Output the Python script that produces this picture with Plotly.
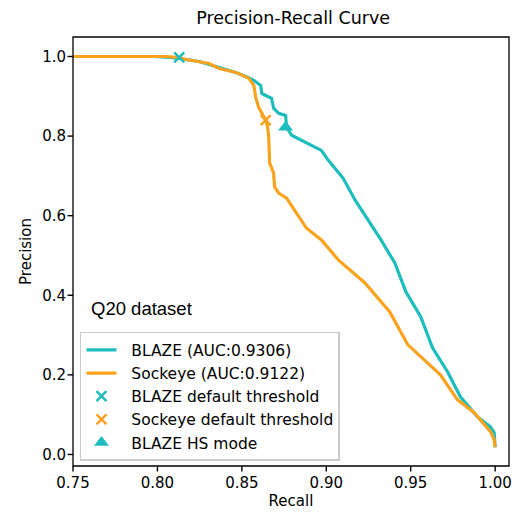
import plotly.graph_objects as go

# Precision-recall curves
blaze_recall = [0.75, 0.7982, 0.8071, 0.8129, 0.8247, 0.8365, 0.8465, 0.8541, 0.8571, 0.8612,
                0.8618, 0.8641, 0.8676, 0.8688, 0.8718, 0.8759, 0.8765, 0.8794, 0.8876, 0.8971,
                0.9012, 0.9100, 0.9171, 0.9247, 0.9324, 0.9406, 0.9471, 0.9559, 0.9629, 0.9718,
                0.9794, 0.9894, 0.9971, 0.9994, 1.0]
blaze_precision = [1.0, 1.0, 0.9975, 0.995, 0.9875, 0.9725, 0.960, 0.947, 0.940, 0.927,
                   0.907, 0.902, 0.895, 0.870, 0.857, 0.852, 0.822, 0.802, 0.784, 0.764,
                   0.739, 0.694, 0.639, 0.589, 0.539, 0.481, 0.409, 0.346, 0.268, 0.208,
                   0.145, 0.095, 0.070, 0.055, 0.018]

sockeye_recall = [0.75, 0.8053, 0.8129, 0.8171, 0.8306, 0.8365, 0.8465, 0.8541, 0.8571, 0.8582,
                  0.8600, 0.8618, 0.8641, 0.8653, 0.8659, 0.8665, 0.8688, 0.8694, 0.8718, 0.8765,
                  0.8882, 0.8971, 0.9071, 0.9229, 0.9376, 0.9482, 0.9676, 0.9776, 0.9876, 0.9971,
                  0.9994, 1.0]
sockeye_precision = [1.0, 1.0, 0.9975, 0.9925, 0.9825, 0.970, 0.960, 0.945, 0.927, 0.897,
                     0.872, 0.857, 0.840, 0.822, 0.797, 0.732, 0.707, 0.672, 0.657, 0.644,
                     0.569, 0.539, 0.489, 0.431, 0.358, 0.276, 0.200, 0.138, 0.105, 0.058,
                     0.038, 0.018]

blaze_auc = 0.9306
sockeye_auc = 0.9122

blaze_default = (0.8129, 0.9975)
sockeye_default = (0.8641, 0.840)
blaze_hs = (0.8759, 0.822)

x_ticks = [0.75, 0.80, 0.85, 0.90, 0.95, 1.00]
y_ticks = [0.0, 0.2, 0.4, 0.6, 0.8, 1.0]
x_range = [0.75, 1.0082]
y_range = [-0.029, 1.049]

TEAL = "#1ebdbd"
ORANGE = "#f9a31f"
FONT = "DejaVu Sans"
LABEL_SIZE = 15
LEGEND_SIZE = 15.5
PAD = "\u00a0\u00a0"  # pushes legend text right, like matplotlib's handle spacing

W, H = 516, 513
MARGIN = {"l": 73, "r": 4, "t": 37, "b": 47}
plot_w = W - MARGIN["l"] - MARGIN["r"]
plot_h = H - MARGIN["t"] - MARGIN["b"]
TICK_LEN = 5.5
TICK_W = 1.4

fig = go.Figure()

fig.add_trace(go.Scatter(x=blaze_recall, y=blaze_precision, mode="lines",
                         line={"color": TEAL, "width": 3.2},
                         name=f"{PAD}BLAZE (AUC:{blaze_auc:.4f})"))
fig.add_trace(go.Scatter(x=sockeye_recall, y=sockeye_precision, mode="lines",
                         line={"color": ORANGE, "width": 3.2},
                         name=f"{PAD}Sockeye (AUC:{sockeye_auc:.4f})"))
fig.add_trace(go.Scatter(x=[blaze_default[0]], y=[blaze_default[1]], mode="markers",
                         marker={"symbol": "x-thin", "size": 10, "line": {"color": TEAL, "width": 2.5}},
                         name=f"{PAD}BLAZE default threshold"))
fig.add_trace(go.Scatter(x=[sockeye_default[0]], y=[sockeye_default[1]], mode="markers",
                         marker={"symbol": "x-thin", "size": 10, "line": {"color": ORANGE, "width": 2.5}},
                         name=f"{PAD}Sockeye default threshold"))
fig.add_trace(go.Scatter(x=[blaze_hs[0]], y=[blaze_hs[1]], mode="markers",
                         marker={"symbol": "triangle-up", "size": 13, "color": TEAL},
                         name=f"{PAD}BLAZE HS mode"))

axis_style = dict(showline=False, ticks="", showgrid=False, zeroline=False,
                  tickfont={"size": LABEL_SIZE, "color": "black", "family": FONT})

fig.update_xaxes(range=x_range, tickvals=x_ticks,
                 ticktext=[f"{v:.2f}" for v in x_ticks], ticklabelstandoff=6,
                 title={"text": "Recall", "font": {"size": LABEL_SIZE, "color": "black", "family": FONT},
                        "standoff": 3},
                 **axis_style)
fig.update_yaxes(range=y_range, tickvals=y_ticks,
                 ticktext=[f"{v:.1f}" for v in y_ticks], ticklabelstandoff=6,
                 title={"text": "Precision", "font": {"size": LABEL_SIZE, "color": "black", "family": FONT},
                        "standoff": 6},
                 **axis_style)

# frame around the plotting area
fig.add_shape(type="rect", xref="paper", yref="paper", x0=0, y0=0, x1=1, y1=1,
              line={"color": "black", "width": 1.3}, layer="above")

# outside tick marks, drawn as thin filled rects in paper coords
half_wx = TICK_W / 2 / plot_w
half_wy = TICK_W / 2 / plot_h
for v in x_ticks:
    xp = (v - x_range[0]) / (x_range[1] - x_range[0])
    fig.add_shape(type="rect", xref="paper", yref="paper", x0=xp - half_wx, x1=xp + half_wx,
                  y0=-TICK_LEN / plot_h, y1=0, fillcolor="black", line={"width": 0},
                  layer="above")
for v in y_ticks:
    yp = (v - y_range[0]) / (y_range[1] - y_range[0])
    fig.add_shape(type="rect", xref="paper", yref="paper", x0=-TICK_LEN / plot_w, x1=0,
                  y0=yp - half_wy, y1=yp + half_wy, fillcolor="black", line={"width": 0},
                  layer="above")

fig.add_annotation(x=0.7595, y=0.368, xref="x", yref="y", text="Q20 dataset",
                   showarrow=False, xanchor="left", yanchor="middle",
                   font={"size": 18.5, "color": "black", "family": "Liberation Sans"})

fig.update_layout(
    width=W,
    height=H,
    margin=MARGIN,
    plot_bgcolor="white",
    paper_bgcolor="white",
    title={"text": "Precision-Recall Curve", "x": 0.505, "xref": "paper", "xanchor": "center",
           "y": 0.965, "yanchor": "middle",
           "font": {"size": 17.5, "color": "black", "family": FONT}},
    showlegend=True,
    legend={"x": 0.016, "y": 0.012, "xanchor": "left", "yanchor": "bottom",
            "bgcolor": "rgba(255,255,255,0.8)", "bordercolor": "#cccccc", "borderwidth": 1.5,
            "font": {"size": LEGEND_SIZE, "color": "black", "family": FONT},
            "tracegroupgap": 0, "itemwidth": 30},
)

fig.write_html(
    "out.html",
    config={"displayModeBar": False},
    post_script="document.body.style.margin='0';document.body.style.overflow='hidden';",
)
